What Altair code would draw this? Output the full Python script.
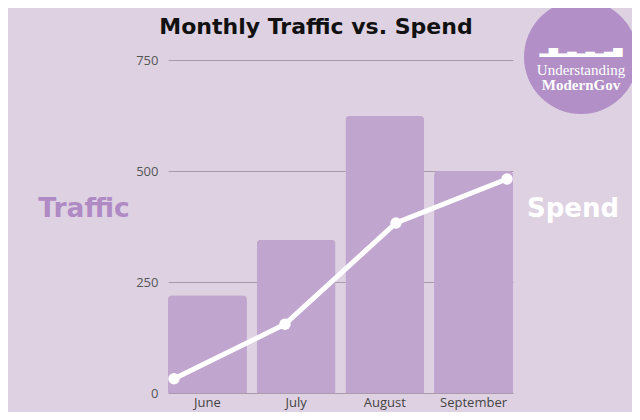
import altair as alt
import pandas as pd

months = ["June", "July", "August", "September"]
traffic = [220, 345, 624, 500]
spend = [32, 155, 383, 482]
y_ticks = [0, 250, 500, 750]

df = pd.DataFrame({"month": months, "traffic": traffic, "spend": spend})

BG = "#ded2e2"
BAR = "#c0a5cf"
GRID = "#a99bab"

y_scale = alt.Scale(domain=[0, 750], nice=False)
y_axis = alt.Axis(values=y_ticks, grid=True, gridColor=GRID, gridWidth=1.2,
                  domain=False, ticks=False, labelFont="Open Sans", labelFontSize=13,
                  labelColor="#555555", labelPadding=10)

bars = alt.Chart(df).mark_bar(color=BAR, cornerRadiusTopLeft=4, cornerRadiusTopRight=4).encode(
    x=alt.X("month:N", sort=months, title=None,
            scale=alt.Scale(paddingInner=0.11, paddingOuter=0),
            axis=alt.Axis(labelAngle=0, labelFont="Open Sans", labelFontSize=13,
                          labelColor="#444444", ticks=False, domain=False, labelPadding=3)),
    y=alt.Y("traffic:Q", scale=y_scale, title=None, axis=y_axis),
)

line_x = alt.X("month:N", sort=months, scale=alt.Scale(type="point", padding=0.054), axis=None)
line = alt.Chart(df).mark_line(color="white", strokeWidth=5).encode(
    x=line_x, y=alt.Y("spend:Q", scale=y_scale, title=None, axis=y_axis)
)
pts = alt.Chart(df).mark_point(filled=True, color="white", size=130, opacity=1).encode(
    x=line_x, y=alt.Y("spend:Q", scale=y_scale, title=None, axis=y_axis)
)

anno = pd.DataFrame({"t": [0]})
title = alt.Chart(anno).mark_text(text="Monthly Traffic vs. Spend", font="DejaVu Sans", fontWeight="bold",
                                  fontSize=22, color="#111111").encode(
    x=alt.value(148), y=alt.value(-33))
traffic_lbl = alt.Chart(anno).mark_text(text="Traffic", font="DejaVu Sans", fontWeight="bold",
                                        fontSize=26.5, color="#b08ac4").encode(
    x=alt.value(-84), y=alt.value(149))
spend_lbl = alt.Chart(anno).mark_text(text="Spend", font="DejaVu Sans", fontWeight="bold",
                                      fontSize=26, color="white").encode(
    x=alt.value(405), y=alt.value(149))
logo = alt.Chart(anno).mark_point(filled=True, shape="circle", color="#b28fc7", size=13000, opacity=1).encode(
    x=alt.value(413), y=alt.value(-3))
logo_t1 = alt.Chart(anno).mark_text(text="Understanding", font="Liberation Serif", fontSize=15,
                                    color="white").encode(x=alt.value(413), y=alt.value(10))
logo_t2 = alt.Chart(anno).mark_text(text="ModernGov", font="Liberation Serif", fontWeight="bold",
                                    fontSize=15, color="white").encode(x=alt.value(413), y=alt.value(25))
sky = alt.Chart(anno).mark_text(text="▂▅▂▃▂▃▂▃▅", font="DejaVu Sans", fontSize=12,
                                color="white").encode(x=alt.value(413), y=alt.value(-10))

chart = alt.layer(bars, line, pts, title, traffic_lbl, spend_lbl, logo, logo_t1, logo_t2, sky).resolve_scale(
    x="independent"
).properties(
    width=345, height=333,
    autosize=alt.AutoSizeParams(type="none"),
    padding={"left": 160, "top": 52, "right": 119, "bottom": 19},
    background=BG,
).configure_view(stroke=None)

chart.save("out.html", embed_options={"renderer": "svg", "actions": False})
